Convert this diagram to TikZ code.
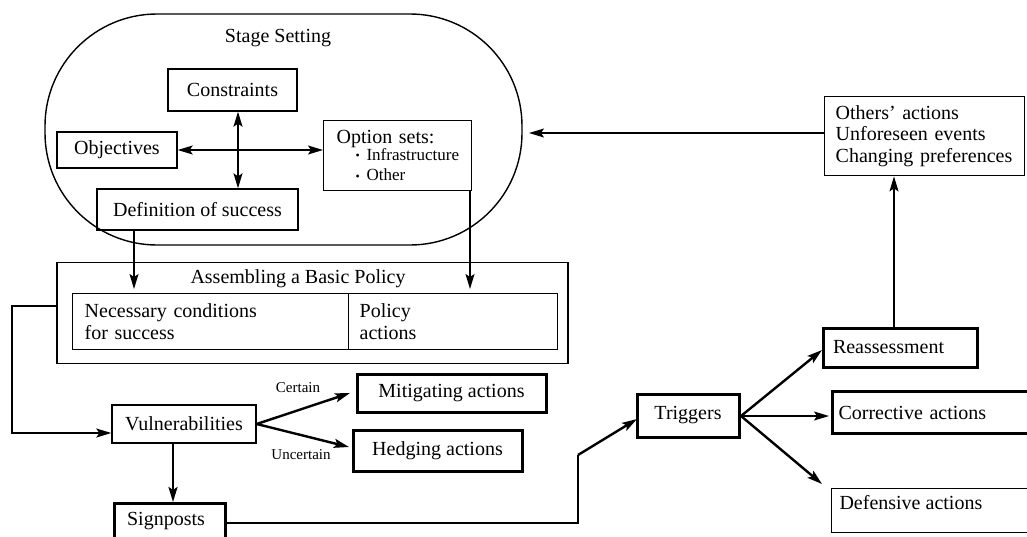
\documentclass[tikz,border=0pt]{standalone}
\usepackage{fontspec}
\setmainfont{Liberation Serif}
\usetikzlibrary{arrows.meta}
\tikzset{
  txt/.style={font=\fontsize{20}{22.5}\selectfont},
  bx/.style={draw, line width=1.4pt, inner sep=0pt, txt},
  tbx/.style={bx, line width=3pt},
  tip/.style={-{Stealth[length=15pt,width=9pt,inset=3pt]}},
  dtip/.style={{Stealth[length=15pt,width=9pt,inset=3pt]}-{Stealth[length=15pt,width=9pt,inset=3pt]}},
  con/.style={line width=1.4pt},
  tcon/.style={line width=2.4pt},
  small/.style={font=\fontsize{15}{17}\selectfont},
}
\begin{document}
\begin{tikzpicture}[x=1pt,y=-1pt]
\useasboundingbox (0,0) rectangle (1027,536);
\clip (0,0) rectangle (1027,536);

% Stage setting
\node[draw, line width=1.4pt, rounded corners=112pt, minimum width=477pt, minimum height=231pt, inner sep=0pt] (stage) at (283.5,129.5) {};
\node[txt] (stagetitle) at (278,38) {Stage Setting};
\node[bx, minimum width=129pt, minimum height=42pt] (constraints) at (232.5,90) {Constraints};
\node[bx, minimum width=120pt, minimum height=36pt] (objectives) at (117,150) {Objectives};
\node[bx, anchor=north west, minimum height=70pt, text width=148pt, inner xsep=0pt, align=left] (options) at (323,120) {\hspace*{13pt}Option sets:\\[-1pt]
 {\fontsize{17}{18}\selectfont\hspace*{32pt}\raisebox{0.5pt}{\fontsize{12}{12}\selectfont\textbullet}\ Infrastructure\\[-2pt]
 \hspace*{32pt}\raisebox{0.5pt}{\fontsize{12}{12}\selectfont\textbullet}\ Other}};
\node[bx, minimum width=201pt, minimum height=41pt] (definition) at (197.5,209.5) {Definition of success};

\coordinate (vx) at (238,0);
\draw[con, dtip] (objectives.east) -- (options.west |- objectives.east);
\draw[con, dtip] (constraints.south -| vx) -- (definition.north -| vx);

% Others box
\node[bx, anchor=north west, minimum height=79pt, text width=200pt, inner xsep=0pt, align=left] (others) at (824,96) {\hspace*{11pt}Others' actions\\[-1pt]\hspace*{11pt}Unforeseen events\\[-1pt]\hspace*{11pt}Changing preferences};
\coordinate (stageR) at (529,133);
\draw[con, tip] (others.west |- stageR) -- (stageR);

% Assembling
\node[draw, line width=1.4pt, minimum width=511pt, minimum height=101pt, inner sep=0pt] (assemble) at (312.5,313) {};
\node[txt] (asstitle) at (298,279) {Assembling a Basic Policy};
\node[bx, anchor=north west, minimum width=276pt, minimum height=56pt, text width=276pt, align=left] (necess) at (72,293) {\hspace*{12pt}Necessary conditions\\[-1pt]\hspace*{12pt}for success};
\node[bx, anchor=north west, minimum width=209pt, minimum height=56pt, text width=209pt, align=left] (policy) at (348,293) {\hspace*{11pt}Policy\\[-1pt]\hspace*{11pt}actions};

\coordinate (a1) at (134,289);
\coordinate (a2) at (470,289);
\draw[con, tip] (definition.south -| a1) -- (a1);
\draw[con, tip] (options.south -| a2) -- (a2);

% Vulnerabilities
\node[bx, minimum width=144pt, minimum height=38pt] (vulner) at (184,424) {Vulnerabilities};
\node[tbx, minimum width=189pt, minimum height=38pt] (mitig) at (451.5,393) {Mitigating actions};
\node[tbx, minimum width=169pt, minimum height=41pt] (hedge) at (437.5,450.5) {Hedging actions};
\coordinate (mtip) at (350,393);
\coordinate (htip) at (349,447);
\draw[tcon, tip] (vulner.east) -- (mtip);
\draw[tcon, tip] (vulner.east) -- (htip);
\node[small] (certain) at (298,388) {Certain};
\node[small] (uncertain) at (301,455) {Uncertain};

% feedback to vulnerabilities
\coordinate (fb1) at (12,306);
\coordinate (fb2) at (12,433);
\draw[con, tip] (assemble.west |- fb1) -- (fb1) -- (fb2) -- (vulner.west |- fb2);

% Signposts
\node[tbx, anchor=north west, minimum width=111pt, minimum height=44pt] (signposts) at (113,502) {};
\node[txt] (signtext) at (166,521) {Signposts};
\draw[tcon, tip] (vulner.south -| 173,0) -- (signposts.north -| 173,0);

% Triggers
\node[tbx, minimum width=102pt, minimum height=43pt] (triggers) at (688,415.5) {Triggers};
\coordinate (s1) at (578,523);
\coordinate (s2) at (578,455);
\coordinate (ttip) at (637,419);
\draw[con, line width=2pt] (signposts.east |- s1) -- (s1) -- (s2);
\draw[tcon, tip] (s2) -- (ttip);

% Right side
\node[tbx, minimum width=154pt, minimum height=39pt, text width=140pt, align=left] (reassess) at (900,347.5) {\hspace*{3pt}Reassessment};
\node[tbx, anchor=north west, minimum height=42pt, text width=200pt, inner xsep=0pt, align=left] (corrective) at (831,390) {\hspace*{6pt}Corrective actions};
\node[bx, anchor=north west, minimum height=44pt, text width=200pt, inner xsep=0pt, align=left] (defensive) at (831,488) {};
\node[txt, anchor=west] (deftext) at (836,503) {Defensive actions};

\coordinate (t0) at (741,416);
\coordinate (rtip) at (822,350);
\coordinate (ctip) at (829,416);
\coordinate (dtip) at (822,484);
\draw[tcon, tip] (t0) -- (rtip);
\draw[con, tip] (t0) -- (ctip);
\draw[tcon, tip] (t0) -- (dtip);

\coordinate (rx) at (894,0);
\draw[con, line width=1.2pt, tip] (reassess.north -| rx) -- (others.south -| rx);
\end{tikzpicture}
\end{document}
